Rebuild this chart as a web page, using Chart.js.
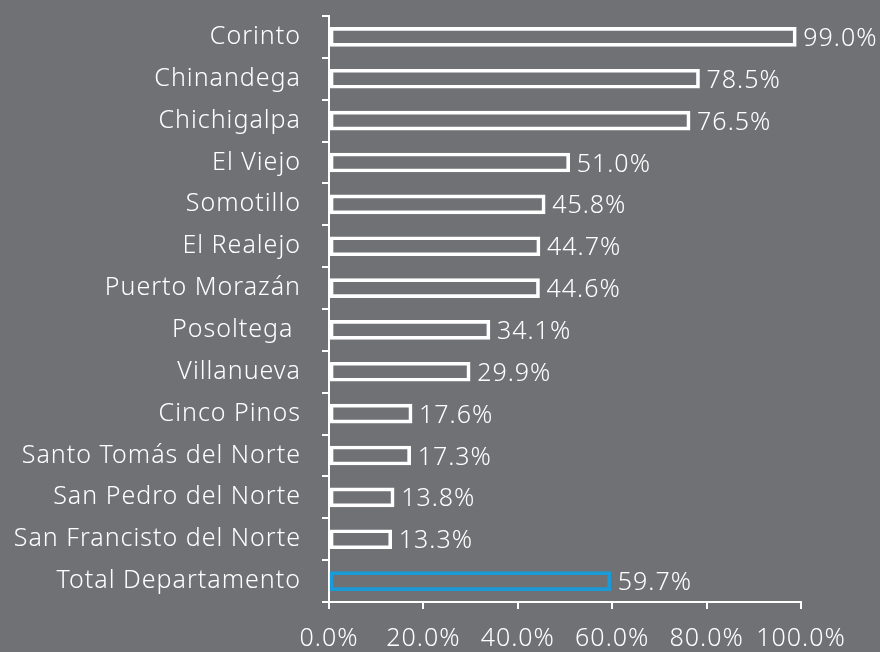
<!DOCTYPE html>
<html>
<head>
<meta charset="utf-8">
<script src="https://cdn.jsdelivr.net/npm/chart.js@4/dist/chart.umd.min.js"></script>
<style>
  html, body { margin: 0; padding: 0; background: #6f7175; }
  #wrap { position: relative; width: 880px; height: 652px; }
</style>
</head>
<body>
<div id="wrap"><canvas id="c"></canvas></div>
<script>
const WHITE = '#ffffff';
const BLUE = '#1a9ad6';

const categories = [
  'Corinto', 'Chinandega', 'Chichigalpa', 'El Viejo', 'Somotillo', 'El Realejo',
  'Puerto Morazán', 'Posoltega ', 'Villanueva', 'Cinco Pinos',
  'Santo Tomás del Norte', 'San Pedro del Norte', 'San Francisto del Norte',
  'Total Departamento'
];
const values = [99.0, 78.5, 76.5, 51.0, 45.8, 44.7, 44.6, 34.1, 29.9, 17.6, 17.3, 13.8, 13.3, 59.7];
const xTicks = [0, 20, 40, 60, 80, 100];

const borderColors = categories.map((c, i) => i === categories.length - 1 ? BLUE : WHITE);

const FONT = { family: "'Noto Sans', 'Open Sans', sans-serif", size: 25, weight: 300 };
const SPACING = '1px';

// the reference text is a bit wider than the font, spread the letters
const wideText = {
  id: 'wideText',
  beforeDraw(chart) { chart.ctx.letterSpacing = SPACING; }
};

// value labels at the end of each bar
const valueLabels = {
  id: 'valueLabels',
  afterDatasetsDraw(chart) {
    const ctx = chart.ctx;
    const meta = chart.getDatasetMeta(0);
    ctx.save();
    ctx.letterSpacing = SPACING;
    ctx.font = `${FONT.weight} ${FONT.size}px ${FONT.family}`;
    ctx.fillStyle = WHITE;
    ctx.textAlign = 'left';
    ctx.textBaseline = 'middle';
    meta.data.forEach((bar, i) => {
      ctx.fillText(values[i].toFixed(1) + '%', bar.x + 7, bar.y + 2);
    });
    ctx.restore();
  }
};

new Chart(document.getElementById('c'), {
  type: 'bar',
  data: {
    labels: categories,
    datasets: [{
      data: values,
      backgroundColor: 'rgba(0,0,0,0)',
      borderColor: borderColors,
      borderWidth: 3,
      borderSkipped: false,
      barThickness: 19,
    }],
  },
  options: {
    indexAxis: 'y',
    responsive: true, maintainAspectRatio: false, animation: false,
    layout: { padding: { top: 16, right: 79, bottom: 0, left: 0 } },
    plugins: { legend: { display: false }, tooltip: { enabled: false } },
    scales: {
      x: {
        min: 0, max: 100,
        afterBuildTicks: s => { s.ticks = xTicks.map(v => ({ value: v })); },
        afterFit: s => { s.height = 50; s.paddingLeft = 0; s.paddingRight = 0; },
        border: { display: true, color: WHITE, width: 2 },
        grid: { drawOnChartArea: false, drawTicks: true, tickLength: 7, color: WHITE, lineWidth: 2 },
        ticks: { color: WHITE, font: FONT, padding: 15, maxRotation: 0, callback: v => v.toFixed(1) + '%' },
      },
      y: {
        afterFit: s => { s.width = 329; s.paddingTop = 0; s.paddingBottom = 0; },
        border: { display: true, color: WHITE, width: 2 },
        grid: { drawOnChartArea: false, drawTicks: true, tickLength: 7, color: WHITE, lineWidth: 2, offset: true },
        ticks: { color: WHITE, font: FONT, padding: 21, autoSkip: false },
      },
    },
  },
  plugins: [wideText, valueLabels],
});
</script>
</body>
</html>
